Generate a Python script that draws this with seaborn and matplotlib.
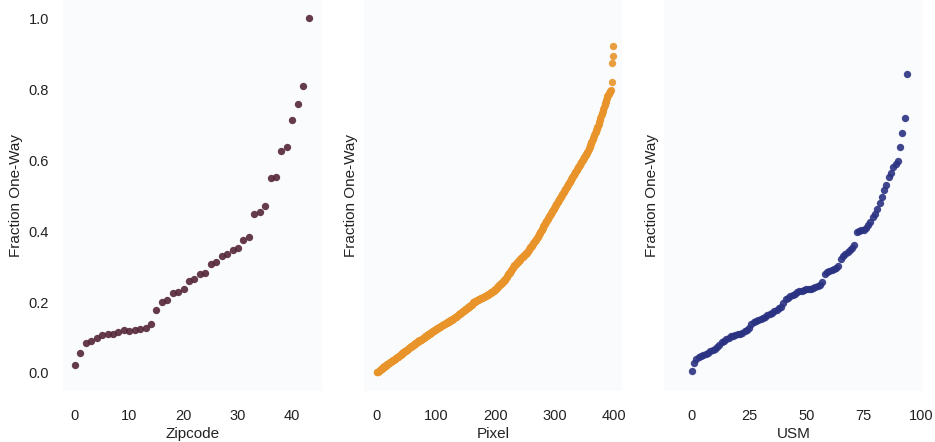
import numpy as np
import pandas as pd
import matplotlib
matplotlib.use("Agg")
import matplotlib.pyplot as plt
import seaborn as sns

# Sorted fraction of one-way trips per unit (values in thousandths)
zipcode_vals = [22, 57, 85, 91, 100, 107, 110, 109, 116, 121,
                119, 121, 124, 126, 138, 177, 200, 207, 226, 229,
                238, 259, 266, 280, 283, 308, 313, 329, 336, 347,
                353, 374, 383, 449, 453, 470, 549, 551, 626, 638,
                714, 759, 808, 1000]

pixel_vals = [
    2, 3, 4, 5, 7, 8, 9, 11, 12, 14, 15, 16, 18, 19, 20, 21, 22, 24, 25, 26,
    27, 29, 30, 31, 32, 33, 35, 36, 37, 38, 39, 40, 41, 42, 44, 46, 46, 47, 48, 50,
    52, 53, 54, 56, 57, 58, 59, 61, 62, 63, 64, 66, 67, 68, 70, 71, 72, 73, 75, 76,
    77, 78, 80, 81, 83, 84, 85, 86, 87, 88, 89, 91, 92, 92, 93, 94, 96, 97, 98, 99,
    100, 101, 103, 104, 105, 106, 108, 109, 110, 111, 112, 113, 115, 116, 117, 118, 119, 120, 121, 122,
    123, 125, 126, 127, 128, 129, 130, 131, 132, 133, 134, 135, 136, 137, 138, 139, 140, 141, 142, 143,
    144, 145, 146, 147, 148, 149, 150, 151, 152, 153, 154, 155, 157, 158, 159, 161, 162, 163, 165, 166,
    167, 168, 170, 171, 172, 174, 175, 176, 178, 179, 180, 181, 183, 184, 185, 186, 188, 189, 190, 191,
    193, 195, 197, 199, 200, 201, 202, 203, 204, 205, 206, 207, 208, 209, 209, 210, 210, 211, 212, 213,
    214, 215, 216, 217, 218, 219, 220, 221, 222, 223, 224, 225, 226, 227, 228, 229, 230, 231, 233, 234,
    236, 238, 240, 242, 243, 245, 247, 248, 250, 252, 253, 255, 256, 258, 259, 261, 263, 266, 268, 271,
    273, 276, 278, 281, 283, 286, 288, 291, 293, 296, 298, 301, 303, 305, 307, 308, 310, 312, 314, 316,
    318, 319, 321, 323, 324, 326, 328, 329, 331, 333, 334, 336, 338, 339, 341, 344, 346, 349, 351, 354,
    356, 358, 361, 363, 366, 368, 371, 373, 376, 378, 381, 383, 386, 389, 392, 395, 398, 401, 404, 407,
    410, 413, 416, 419, 422, 425, 428, 432, 435, 438, 440, 443, 446, 449, 451, 454, 457, 460, 462, 465,
    468, 470, 473, 476, 479, 481, 484, 487, 490, 492, 495, 498, 501, 504, 506, 509, 512, 515, 518, 521,
    524, 526, 529, 532, 535, 538, 541, 544, 546, 549, 552, 555, 558, 561, 564, 567, 570, 573, 575, 578,
    581, 584, 587, 590, 592, 595, 598, 601, 604, 607, 609, 612, 614, 617, 620, 623, 626, 630, 634, 638,
    642, 646, 650, 655, 659, 663, 667, 671, 675, 679, 684, 688, 692, 697, 702, 708, 713, 718, 723, 729,
    734, 739, 744, 750, 755, 760, 765, 770, 775, 780, 783, 786, 789, 792, 795, 798, 821, 875, 893, 923,
]

usm_vals = [7, 27, 40, 46, 49, 51, 54, 57, 61, 65,
            69, 74, 80, 86, 91, 96, 100, 103, 105, 107,
            109, 111, 114, 117, 121, 128, 137, 143, 147, 150,
            153, 156, 159, 163, 167, 170, 174, 178, 182, 186,
            197, 208, 212, 216, 219, 222, 227, 230, 232, 234,
            236, 237, 238, 240, 242, 244, 247, 256, 278, 284,
            288, 291, 294, 297, 301, 320, 330, 336, 341, 347,
            352, 362, 397, 400, 402, 404, 410, 417, 425, 440,
            449, 462, 480, 496, 515, 530, 552, 565, 580, 589,
            598, 636, 675, 720, 842]

panels = ["Zipcode", "Pixel", "USM"]
colors = ["#552638", "#e8942a", "#2a3282"]
x_limits = [(-2.2, 45.4), (-22, 414), (-12, 101)]
x_ticks = [[0, 10, 20, 30, 40], [0, 100, 200, 300, 400], [0, 25, 50, 75, 100]]

sns.set_style("white")
plt.rcParams['font.family'] = ['Liberation Sans', 'DejaVu Sans']

fig, axes = plt.subplots(1, 3, figsize=(9.35, 4.42), dpi=100)
fig.subplots_adjust(left=0.0674, right=0.9872, top=0.999, bottom=0.116, wspace=0.163)

for i, (ax, name, vals) in enumerate(zip(axes, panels, [zipcode_vals, pixel_vals, usm_vals])):
    df = pd.DataFrame({name: np.arange(len(vals)), "Fraction One-Way": np.array(vals) / 1000})
    sns.scatterplot(data=df, x=name, y="Fraction One-Way", ax=ax,
                    color=colors[i], s=28, linewidth=0, alpha=0.9)
    ax.set_facecolor("#fafbfd")
    ax.set_xlim(*x_limits[i])
    ax.set_ylim(-0.05, 1.05)
    ax.set_xticks(x_ticks[i])
    ax.set_yticks([0.0, 0.2, 0.4, 0.6, 0.8, 1.0])
    ax.set_xlabel(name, fontsize=11, color="#222222", labelpad=3)
    ax.set_ylabel("Fraction One-Way", fontsize=11, color="#222222")
    ax.tick_params(axis="x", labelsize=10.5, pad=9.5, colors="#222222")
    ax.tick_params(axis="y", labelsize=10.5, pad=6.5, colors="#222222")
    # only the first panel shows y tick labels
    if i > 0:
        ax.tick_params(axis="y", labelleft=False)
    sns.despine(ax=ax, left=True, bottom=True)

fig.savefig("out.png")
plt.close(fig)
